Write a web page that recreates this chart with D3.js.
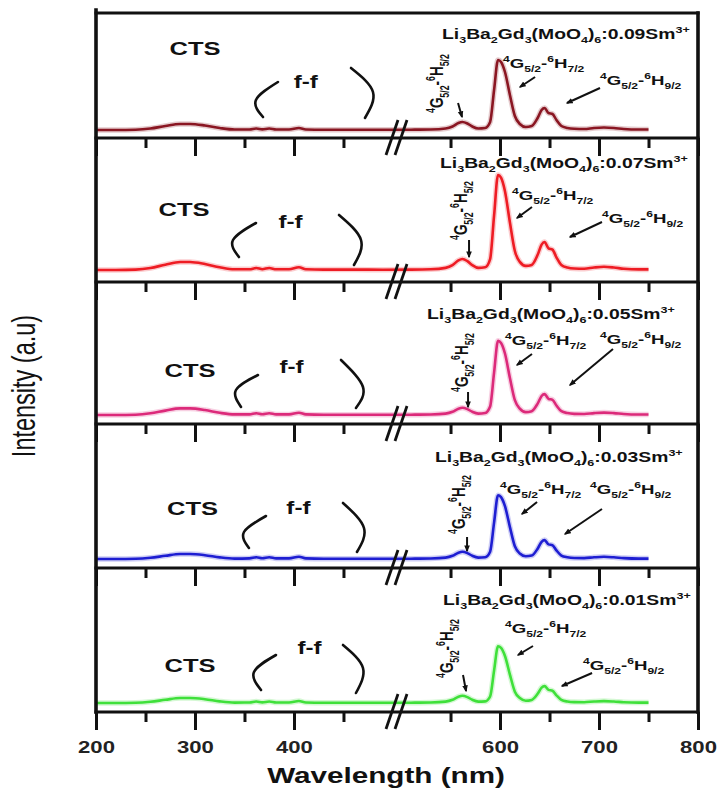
<!DOCTYPE html>
<html><head><meta charset="utf-8">
<script src="https://cdn.jsdelivr.net/npm/d3@7"></script>
<style>body{margin:0;background:#fff}svg{display:block}</style>
</head><body>
<svg id="chart" width="717" height="789"></svg>
<script>
// ---------- data ----------
const wavelengths = [200,220,240,255,270,285,295,310,325,340,355,362,368,375,382,395,405,412,430,460,490,510,530,545,552,558,562,567,572,578,585,590,594,598,601,605,610,615,620,626,632,638,642,645,649,653,657,662,668,675,685,695,705,715,725,740,750];
const sm009 = [8,8,8.3,9.5,12,14,14,12.5,10,8.5, 8.5,9.5,8.6,9.5,8.5,8.5,10,8.5,8.3,8.3, 8.2,8.3,8.5,9.5,11.5,15,16,14.5,11.5,9.5, 10,16,48,78,76,66,43,22,14,11, 12,20,28,30,25,24,18,12,10,9.2, 9,10,10.5,10,9,8.5,8.5];
const sm007 = [12,12,12.4,14,17.3,20,20,18,14.7,12.7, 12.7,14,12.8,14,12.7,12.7,14.7,12.7,12.4,12.4, 12.3,12.4,12.7,14.1,16.8,21.6,23,20.9,16.8,14.1, 14.7,22.9,66.3,107,104.3,90.7,59.5,31,20.1,16.1, 17.1,27.2,37.4,40,33.6,32.3,24.7,17.1,14.5,13.5, 13.3,14.5,15.2,14.5,13.3,12.6,12.6];
const sm005 = [9,9,9.3,10.7,13.4,15.6,15.6,14,11.2,9.6, 9.6,10.7,9.7,10.7,9.6,9.6,11.2,9.6,9.3,9.3, 9.2,9.3,9.5,10.4,12.2,15.3,16.2,14.9,12.2,10.4, 11,17.5,51.4,83.2,81,70.5,46,23.8,15.4,11.9, 12.8,20.4,28,29.9,25.2,24.2,18.5,12.8,10.9,10.1, 10,10.9,11.4,10.9,10,9.5,9.5];
const sm003 = [9,9,9.2,10.2,12.2,14,14,12.8,10.6,9.4, 9.6,10.7,9.7,10.7,9.6,9.6,11.2,9.6,9.3,9.3, 9.2,9.3,9.5,10.4,12.2,15.3,16.2,14.9,12.2,10.4, 10.8,16.3,45.4,72.7,70.9,61.8,40.9,21.7,14.5,11.7, 12.4,19.3,26.2,27.9,23.6,22.8,17.6,12.4,10.7,10, 9.9,10.7,11.2,10.7,9.9,9.4,9.4];
const sm001 = [9,9,9.2,10.2,12.2,14,14,12.8,10.6,9.4, 9.5,10.5,9.6,10.5,9.5,9.5,11,9.5,9.3,9.3, 9.2,9.3,9.5,10.4,12.2,15.3,16.2,14.9,12.2,10.4, 10.6,15.5,41.4,65.7,64.1,56,37.4,20.3,13.9,11.3, 12.1,18.2,24.4,25.9,22.1,21.3,16.7,12.1,10.5,9.9, 9.8,10.5,10.9,10.5,9.8,9.4,9.4];
const seriesValues = [sm009, sm007, sm005, sm003, sm001];
const concentrations = ["0.09","0.07","0.05","0.03","0.01"];
const seriesColors = ["#8a1622","#ee1c24","#dc2a7a","#1e1ed2","#3fe03a"];
const majorTicks = [200,300,400,600,700,800];
const minorTicks = [250,350,450,550,650,750];

// annotation anchors in data units (nm, intensity)
const ctsAt = [[300,83.5],[289,66.5],[295,47.5],[297.5,53.5],[295,40.5]];
const ffAt = [[412,50],[396.5,54],[397.5,51],[404.5,54],[415.7,58]];
const leftBracket = [[[383.8,56],[361.6,38],[368.7,21]],[[361.6,59],[338.4,42],[344.4,25]],[[363.6,49],[341.4,34],[346.5,17]],[[371.7,52],[349.5,36],[354.5,20]],[[381.8,57],[359.6,40],[366.7,22]]];
const rightBracket = [[[457.6,70],[479.8,46],[471.7,20]],[[445.5,67],[467.7,42],[460.6,17]],[[447.5,64],[469.7,37],[462.6,16]],[[449.5,65],[470.7,40],[463.6,16]],[[449.5,67],[469.7,44],[462.6,19]]];
const sampleAt = [[541.4,99],[539.4,114],[526.3,105],[534.3,106],[542.4,107]];
const h72At = [[603,70],[612.1,82],[605.1,79],[600,74],[605.1,79]];
const h92At = [[701,53],[703,59],[701,80],[690.9,74],[683.8,42]];
const h52At = [[542.4,25],[566.7,42],[567.7,32],[564.6,34],[552.5,34]];
const arrow52 = [[[557.6,35],[561.6,21]],[[568.7,42],[568.7,25]],[[567.7,32],[567.7,17]],[[566.7,31],[566.7,17]],[[562.6,37],[565.7,21]]];
const arrow72 = [[[635.4,61],[620.2,51]],[[632.3,75],[617.2,64]],[[632.3,70],[617.2,59]],[[637.4,66],[622.2,54]],[[633.3,66],[618.2,57]]];
const arrow92 = [[[701,50],[667.7,35]],[[703,60],[670.7,45]],[[714.1,75],[670.7,39]],[[703,59],[665.7,34]],[[693,39],[662.6,26]]];

// ---------- layout ----------
const SX = 1.38;
const FONT = "'Liberation Sans', Arial, sans-serif";
const panelTop = [13,138,282,424,568];
const panelBottom = [138,282,424,568,712];
const xLeft = 96, xRight = 698;

const svg = d3.select('#chart');
const x = d3.scaleLinear().domain([200,497,503,800]).range([xLeft,390,404,xRight]);
const yScales = panelBottom.map(b => d3.scaleLinear().domain([0,140]).range([b, b-140]));

const defs = svg.append('defs');
defs.append('marker').attr('id','ah').attr('viewBox','0 0 10 10').attr('refX',8).attr('refY',5)
  .attr('markerWidth',7).attr('markerHeight',7).attr('markerUnits','userSpaceOnUse').attr('orient','auto')
  .append('path').attr('d','M0,1 L10,5 L0,9 z').attr('fill','#111');

function rich(textSel, parts, size){
  let shift = 0;
  parts.forEach(([t, kind]) => {
    const target = kind==='sub' ? size*0.3 : kind==='sup' ? -size*0.42 : 0;
    textSel.append('tspan').attr('dy', target - shift)
      .attr('font-size', kind==='n' ? size : size*0.65).text(t);
    shift = target;
  });
}
function placeText(px, py, rotate){
  return svg.append('g').attr('transform', `translate(${px},${py}) scale(${SX},1)` + (rotate ? ' rotate(-90)' : ''))
    .append('text').attr('font-family', FONT).attr('font-weight','bold').attr('fill','#111');
}

// ---------- spectra ----------
seriesValues.forEach((vals, i) => {
  const y = yScales[i];
  const line = d3.line().x((d,j) => x(wavelengths[j])).y(d => y(d)).curve(d3.curveMonotoneX);
  svg.append('path').attr('d', line(vals)).attr('fill','none').attr('stroke', seriesColors[i])
    .attr('stroke-width',5.5).attr('stroke-opacity',0.22).attr('stroke-linejoin','round');
  svg.append('path').attr('d', line(vals)).attr('fill','none').attr('stroke', seriesColors[i])
    .attr('stroke-width',2.6).attr('stroke-linejoin','round');
});

// ---------- frames & axes ----------
const frame = svg.append('g').attr('stroke','#111').attr('stroke-linecap','square');
frame.append('line').attr('x1',xLeft).attr('x2',xRight).attr('y1',panelTop[0]).attr('y2',panelTop[0]).attr('stroke-width',3);
frame.append('line').attr('x1',xLeft).attr('x2',xLeft).attr('y1',10).attr('y2',panelBottom[4]).attr('stroke-width',3.6);
frame.append('line').attr('x1',xRight).attr('x2',xRight).attr('y1',panelTop[0]).attr('y2',panelBottom[4]).attr('stroke-width',3.6);

panelBottom.forEach((b, i) => {
  frame.append('line').attr('x1',xLeft).attr('x2',xRight).attr('y1',b).attr('y2',b).attr('stroke-width',3);
  const isLast = i === panelBottom.length - 1;
  const major = svg.append('g').attr('transform',`translate(0,${b})`)
    .call(d3.axisBottom(x).tickValues(majorTicks).tickSize(18).tickFormat(isLast ? d3.format('d') : () => ''));
  const minor = svg.append('g').attr('transform',`translate(0,${b})`)
    .call(d3.axisBottom(x).tickValues(minorTicks).tickSize(10).tickFormat(() => ''));
  [major, minor].forEach(a => {
    a.select('.domain').remove();
    a.selectAll('line').attr('stroke','#111').attr('stroke-width',3);
  });
  major.selectAll('text').attr('y',41).attr('dy',0).attr('font-family',FONT).attr('font-weight','bold')
    .attr('font-size',16).attr('fill','#222').attr('transform',`scale(${SX},1)`);
  // break marks
  const xc = x(500);
  [-7, 2].forEach(off => {
    svg.append('line').attr('x1', xc + off - 4).attr('y1', b + 17).attr('x2', xc + off + 8).attr('y2', b - 18)
      .attr('stroke','#111').attr('stroke-width',2.8);
  });
});

// ---------- annotations ----------
const bracketLine = d3.line().curve(d3.curveNatural);
seriesValues.forEach((vals, i) => {
  const y = yScales[i];
  placeText(x(ctsAt[i][0]), y(ctsAt[i][1])).attr('font-size',18.5).attr('text-anchor','middle').text('CTS');
  placeText(x(ffAt[i][0]), y(ffAt[i][1])).attr('font-size',17.5).attr('text-anchor','middle').text('f-f');
  [leftBracket[i], rightBracket[i]].forEach(pts => {
    svg.append('path').attr('d', bracketLine(pts.map(p => [x(p[0]), y(p[1])])))
      .attr('fill','none').attr('stroke','#111').attr('stroke-width',2.6).attr('stroke-linecap','round');
  });
  rich(placeText(x(sampleAt[i][0]), y(sampleAt[i][1])),
    [["Li","n"],["3","sub"],["Ba","n"],["2","sub"],["Gd","n"],["3","sub"],["(MoO","n"],["4","sub"],[")","n"],["6","sub"],[":"+concentrations[i]+"Sm","n"],["3+","sup"]], 14);
  rich(placeText(x(h72At[i][0]), y(h72At[i][1])),
    [["4","sup"],["G","n"],["5/2","sub"],["-","n"],["6","sup"],["H","n"],["7/2","sub"]], 13.5);
  rich(placeText(x(h92At[i][0]), y(h92At[i][1])),
    [["4","sup"],["G","n"],["5/2","sub"],["-","n"],["6","sup"],["H","n"],["9/2","sub"]], 13.5);
  rich(placeText(x(h52At[i][0]), y(h52At[i][1]), true),
    [["4","sup"],["G","n"],["5/2","sub"],["-","n"],["6","sup"],["H","n"],["5/2","sub"]], 13.5);
  [arrow52[i], arrow72[i], arrow92[i]].forEach(a => {
    svg.append('line').attr('x1', x(a[0][0])).attr('y1', y(a[0][1])).attr('x2', x(a[1][0])).attr('y2', y(a[1][1]))
      .attr('stroke','#111').attr('stroke-width',2).attr('marker-end','url(#ah)');
  });
});

// ---------- axis titles ----------
svg.append('g').attr('transform',`translate(386,783) scale(${SX},1)`).append('text')
  .attr('font-family',FONT).attr('font-weight','bold').attr('font-size',21.5).attr('text-anchor','middle')
  .attr('fill','#111').text('Wavelength (nm)');
svg.append('g').attr('transform',`translate(35,386) scale(${SX},1) rotate(-90)`).append('text')
  .attr('font-family',FONT).attr('font-size',23.5).attr('text-anchor','middle')
  .attr('fill','#111').text('Intensity (a.u)');
</script>
</body></html>
